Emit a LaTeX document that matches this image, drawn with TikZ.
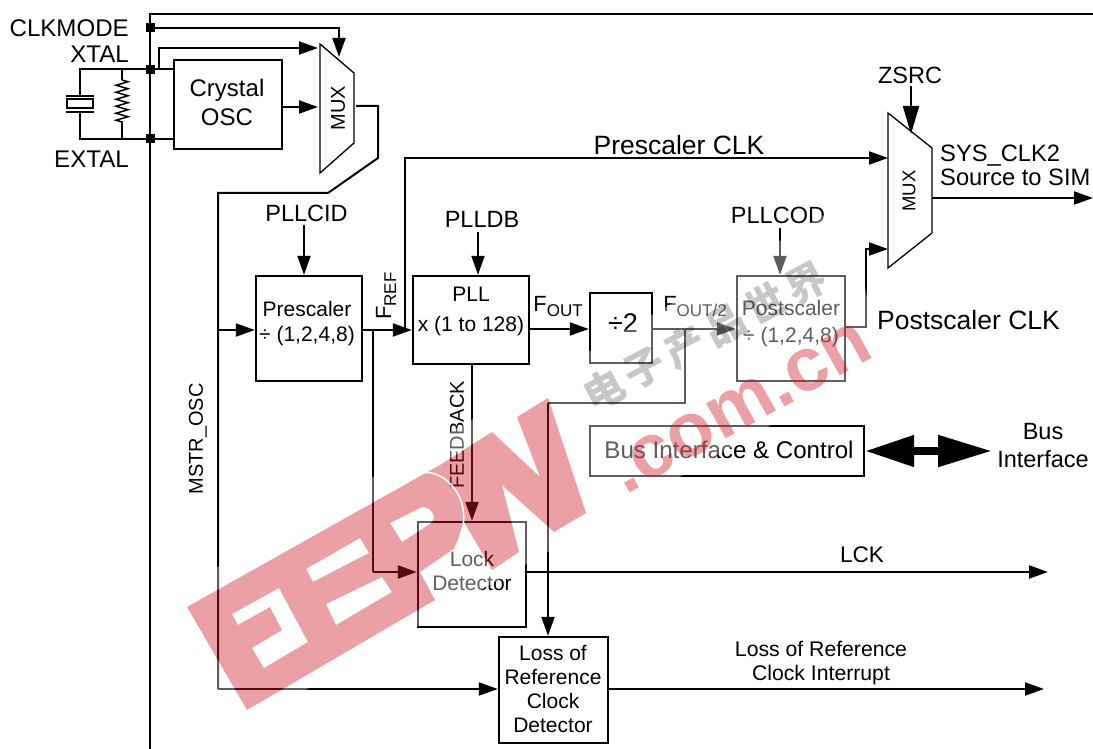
\documentclass[tikz,border=0pt]{standalone}
\usepackage{fontspec}
\setmainfont{Liberation Sans}
\newfontfamily\cjkfont[LetterSpace=14]{Noto Sans CJK SC}
\usetikzlibrary{arrows.meta,decorations.pathmorphing}
\definecolor{eepwred}{HTML}{CF1827}
\newcommand{\fsub}[1]{F\raisebox{-5pt}{\fontsize{17}{17}\selectfont #1}}
\newcommand{\fs}[1]{\fontsize{#1}{#1}\selectfont}
\tikzset{
wire/.style={line width=2pt,draw=black},
thinwire/.style={line width=1.3pt,draw=black},
sig/.style={wire,-{Triangle[length=19pt,width=13pt]}},
bigsig/.style={wire,-{Triangle[length=28pt,width=16pt]}},
block/.style={draw=black,line width=2.4pt,inner sep=0pt},
pin/.style={fill=black,minimum size=9pt,inner sep=0pt},
lbl/.style={inner sep=0pt,align=center,font=\fontsize{23.5}{28}\selectfont},
pinlbl/.style={lbl,anchor=east,font=\fs{24.1}},
small/.style={lbl,font=\fontsize{21}{24}\selectfont},
big/.style={lbl,font=\fontsize{26.5}{30}\selectfont},
muxtxt/.style={inner sep=0pt,rotate=90},
eepwband/.style={insert path={
(187,607) -- (440,465) -- (492,432) -- (540,477) -- (517,417) -- (548,398)
-- (586,513) -- (554,532) -- (502,485) -- (519,552) -- (492,570) -- (464,522) -- (455,548)
-- (420,572) -- (435,600) -- (247,710) -- cycle
(390,523) -- (422,507) .. controls (432,507) and (438,518) .. (430,524) -- (402,542) -- cycle
(306,569) -- (360,538) -- (369,553) -- (313,582) -- cycle
(326,604) -- (382,577) -- (392,592) -- (336,625) -- cycle
(232,614) -- (279,588) -- (308,642) -- (264,668) -- (252,648) -- (282,630) -- (270,607) -- (238,625) -- cycle
}},
}
\begin{document}
\begin{tikzpicture}[x=1pt,y=-1pt]
\useasboundingbox (0,0) rectangle (1093,749);

\coordinate (topleft) at (150,14);
\coordinate (topright) at (1093,14);
\coordinate (bottomleft) at (150,749);
\draw[wire] (bottomleft) -- (topleft) -- (topright);

\node[pin] (clkmodepin) at (150,28) {};
\node[pin] (xtalpin) at (150,70) {};
\node[pin] (extalpin) at (150,139) {};
\node[pinlbl] (clkmode) at (129,28) {CLKMODE};
\node[pinlbl] (xtal) at (129,54) {XTAL};
\node[pinlbl] (extal) at (129,159) {EXTAL};

\node[block,minimum width=108pt,minimum height=89pt] (crystalosc) at (228,104.5) {};
\node[lbl,font=\fontsize{24}{29}\selectfont] (crystaltxt) at (227,102) {Crystal\\OSC};

\coordinate (xtalcorner) at (80,69);
\coordinate (extalcorner) at (80,139);
\coordinate (xtaltap) at (122,69);
\coordinate (extaltap) at (122,139);
\coordinate (restop) at (122,80);
\coordinate (resbot) at (122,124);
\node[draw=black,line width=2pt,minimum width=26pt,minimum height=9pt,inner sep=0pt] (crystal) at (80,104) {};
\coordinate (plateatl) at (66,96);
\coordinate (plateatr) at (94,96);
\coordinate (platebl) at (66,112);
\coordinate (platebr) at (94,112);
\coordinate (platetop) at (80,96);
\coordinate (platebot) at (80,112);
\draw[wire] (plateatl) -- (plateatr);
\draw[wire] (platebl) -- (platebr);
\draw[wire] (platetop) -- (xtalcorner) -- (crystalosc.west |- xtalcorner);
\draw[wire] (platebot) -- (extalcorner) -- (crystalosc.west |- extalcorner);
\draw[wire] (xtaltap) -- (restop);
\draw[wire] (resbot) -- (extaltap);
\draw[line width=1.5pt,decorate,decoration={zigzag,segment length=7pt,amplitude=6pt}] (restop) -- (resbot);

\coordinate (mux1a) at (320,44);
\coordinate (mux1b) at (354,73);
\coordinate (mux1c) at (354,143);
\coordinate (mux1d) at (320,173);
\draw[thinwire] (mux1a) -- (mux1b) -- (mux1c) -- (mux1d) -- cycle;
\node[muxtxt,font=\fs{20}] (mux1txt) at (338,108) {MUX};
\coordinate (clkmodein) at (339,57);
\coordinate (xtalbranch) at (159,69);
\coordinate (xtalbend) at (159,48);
\coordinate (mux1top) at (318,48);
\coordinate (oscin) at (318,107);
\draw[sig] (clkmodepin.center) -| (clkmodein);
\draw[sig] (xtalbranch) -- (xtalbend) -- (mux1top);
\draw[sig] (crystalosc.east |- oscin) -- (oscin);

\coordinate (mux1out) at (356,106);
\coordinate (mux1right) at (378,106);
\coordinate (mux1low) at (378,158);
\coordinate (mstrslant) at (328,193);
\coordinate (mstrtop) at (218,193);
\coordinate (mstrbot) at (218,689);
\node[block,minimum width=109pt,minimum height=106pt] (lossdet) at (553.5,690) {};
\node[small] (losstxt) at (553,689) {Loss of\\Reference\\Clock\\Detector};
\draw[wire] (mux1out) -- (mux1right) -- (mux1low) -- (mstrslant) -- (mstrtop) -- (mstrbot);
\draw[sig] (mstrbot) -- (lossdet.west |- mstrbot);
\node[muxtxt,font=\fs{20}] (mstrosc) at (198,439) {MSTR\_OSC};

\node[block,minimum width=106pt,minimum height=105pt] (prescaler) at (309,328.5) {};
\node[small] (prescalertxt) at (307,323.5) {Prescaler\\[1pt]÷ (1,2,4,8)};
\node[lbl] (pllcid) at (306.5,213) {PLLCID};
\coordinate (pllcidin) at (304,225);
\draw[sig] (pllcidin) -- (pllcidin |- prescaler.north);
\coordinate (mstrtap) at (218,330);
\draw[sig] (mstrtap) -- (prescaler.west |- mstrtap);

\node[block,minimum width=116pt,minimum height=88pt] (pll) at (471,320) {};
\node[small] (plltxt) at (471,311) {PLL\\[6pt]x (1 to 128)};
\node[lbl] (plldb) at (482,219) {PLLDB};
\coordinate (plldbin) at (478,232);
\draw[sig] (plldbin) -- (plldbin |- pll.north);
\coordinate (frefout) at (362,330);
\draw[sig] (frefout) -- (pll.west |- frefout);
\node[muxtxt,font=\fs{22}] (fref) at (386,296) {\fsub{REF}};

\coordinate (frefbranch) at (405,330);
\coordinate (prescalerclkbend) at (405,158);
\coordinate (mux2upper) at (888,158);
\draw[sig] (frefbranch) -- (prescalerclkbend) -- (mux2upper);
\node[big] (prescalerclk) at (679,145) {Prescaler CLK};

\node[block,minimum width=108pt,minimum height=105pt] (lockdet) at (472,574.5) {};
\node[small] (locktxt) at (472,570.5) {Lock\\Detector};
\coordinate (lockbranch) at (373,330);
\coordinate (lockbend) at (373,572);
\draw[wire] (lockbranch) -- (lockbend);
\draw[sig] (lockbend) -- (lockdet.west |- lockbend);
\coordinate (fbout) at (472,364);
\draw[sig] (fbout) -- (lockdet.north);
\node[muxtxt,font=\fs{20}] (feedback) at (457,435) {FEEDBACK};

\node[block,minimum width=62pt,minimum height=70pt] (div2) at (621,328) {};
\node[lbl,font=\fs{27}] (div2txt) at (623,323) {÷2};
\coordinate (pllout) at (529,329);
\draw[sig] (pllout) -- (div2.west |- pllout);
\node[lbl,font=\fs{22}] (fout) at (558,307) {\fsub{OUT}};

\node[block,minimum width=108pt,minimum height=105pt] (postscaler) at (791,328.5) {};
\node[small] (postscalertxt) at (791,323.5) {Postscaler\\[3pt]÷ (1,2,4,8)};
\coordinate (div2out) at (652,329);
\draw[sig] (div2out) -- (postscaler.west |- div2out);
\node[lbl,font=\fs{22}] (fout2) at (695,307) {\fsub{OUT/2}};
\node[lbl] (pllcod) at (778,215) {PLLCOD};
\coordinate (pllcodin) at (780,228);
\draw[sig] (pllcodin) -- (pllcodin |- postscaler.north);

\coordinate (fout2tap) at (685,329);
\coordinate (fout2low) at (685,403);
\coordinate (lossbend) at (548,403);
\draw[wire] (fout2tap) -- (fout2low) -- (lossbend);
\draw[sig] (lossbend) -- (lossbend |- lossdet.north);

\coordinate (mux2a) at (888,113);
\coordinate (mux2b) at (932,148);
\coordinate (mux2c) at (932,233);
\coordinate (mux2d) at (888,268);
\draw[thinwire] (mux2a) -- (mux2b) -- (mux2c) -- (mux2d) -- cycle;
\node[muxtxt,font=\fs{18.5}] (mux2txt) at (909,191) {MUX};
\node[lbl] (zsrc) at (910,75) {ZSRC};
\coordinate (zsrcin) at (911,86);
\coordinate (zsrctip) at (911,134);
\draw[bigsig] (zsrcin) -- (zsrctip);
\coordinate (postout) at (845,327);
\coordinate (postbend) at (866,327);
\coordinate (postup) at (866,249);
\coordinate (mux2lower) at (888,249);
\draw[sig] (postout) -- (postbend) -- (postup) -- (mux2lower);
\node[big,anchor=west] (postscalerclk) at (877,320) {Postscaler CLK};
\coordinate (mux2out) at (932,198);
\coordinate (sysclk) at (1093,198);
\draw[sig] (mux2out) -- (sysclk);
\node[lbl,anchor=west,align=left,font=\fontsize{23.7}{24}\selectfont] (sysclktxt) at (940,165) {SYS\_CLK2\\Source to SIM};

\node[block,minimum width=274pt,minimum height=50pt] (busctrl) at (727,451) {};
\node[lbl,font=\fs{24.1}] (busctrltxt) at (729,450) {Bus Interface \& Control};
\node[lbl] (busif) at (1043,446) {Bus\\Interface};
\coordinate (busend) at (992,451);
\draw[line width=8pt,{Triangle[length=49pt,width=30pt]}-{Triangle[length=54pt,width=30pt]}] (busctrl.east) -- (busend);

\coordinate (lockout) at (527,572);
\coordinate (lockend) at (1048,572);
\draw[sig] (lockout) -- (lockend);
\node[lbl,font=\fs{22.6}] (lck) at (862,555) {LCK};
\coordinate (lossout) at (608,689);
\coordinate (lossend) at (1044,689);
\draw[sig] (lossout) -- (lossend);
\node[lbl,font=\fontsize{21.2}{24}\selectfont] (losstext) at (821,663) {Loss of Reference\\Clock Interrupt};

\fill[white,opacity=.37,even odd rule] (190,583) -- (845,203) -- (866,292) -- (880,363) -- (683,475) -- (230,733) -- (190,640) -- cycle [eepwband];
\fill[eepwred,opacity=.41,even odd rule][eepwband];
\draw[white,line width=1.6pt] (415,475) .. controls (440,462) and (482,500) .. (455,548);
\node[inner sep=0pt,rotate=29,text=eepwred,opacity=.41,font=\bfseries\fs{76}] (eepwcom) at (741,408) {.com.cn};
\node[inner sep=0pt,rotate=28,opacity=.22,font=\cjkfont\bfseries\fs{40}] (eepwcn) at (705,336) {电子产品世界};
\end{tikzpicture}
\end{document}
